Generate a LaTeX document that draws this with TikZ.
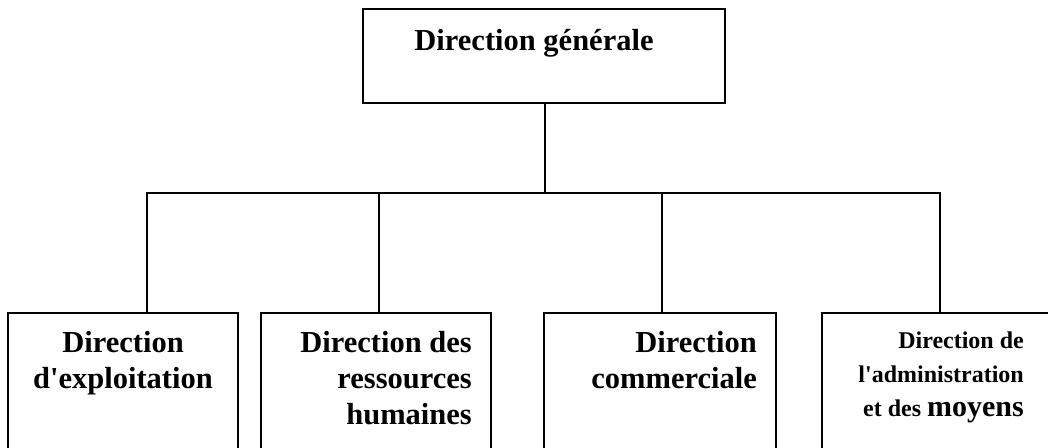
\documentclass[tikz,border=0pt]{standalone}
\usepackage{fontspec}
\setmainfont{Liberation Serif}
\begin{document}
\begin{tikzpicture}[x=1pt,y=-1pt,
  box/.style={draw=black,line width=1.8pt},
  conn/.style={draw=black,line width=1.8pt},
  lbl/.style={inner sep=0pt,font=\bfseries\fontsize{30.5}{36}\selectfont},
  lblsmall/.style={inner sep=0pt,font=\bfseries\fontsize{24}{34}\selectfont}]
\useasboundingbox (0,0) rectangle (1048,447);
\clip (0,0) rectangle (1048,447);
% boxes
\draw[box] (363,9) rectangle (725,103);
\coordinate (dg) at (545,103);
\draw[box] (8,313) rectangle (238,470);
\draw[box] (261,313) rectangle (491,470);
\draw[box] (544,313) rectangle (776,470);
\draw[box] (822,313) rectangle (1070,470);
\coordinate (b1) at (147,313);
\coordinate (b2) at (379,313);
\coordinate (b3) at (662,313);
\coordinate (b4) at (940,313);
\coordinate (hub) at (545,193);
% labels
\node[lbl,anchor=base] (tdg) at (534,50) {Direction générale};
\node[lbl,anchor=north,align=center] (t1) at (123,331) {Direction\\d\textquotesingle exploitation};
\node[lbl,anchor=north east,align=right] (t2) at (472,331) {Direction des\\ressources\\humaines};
\node[lbl,anchor=north east,align=right] (t3) at (757,331) {Direction\\commerciale};
\node[lblsmall,anchor=north east,align=right] (t4) at (1024,332) {Direction de\\l\textquotesingle administration\\et des {\fontsize{30}{34}\selectfont moyens}};
% connectors
\draw[conn] (dg) -- (hub);
\draw[conn] (b1) |- (hub) -| (b4);
\draw[conn] (b2) -- (b2 |- hub);
\draw[conn] (b3) -- (b3 |- hub);
\end{tikzpicture}
\end{document}
